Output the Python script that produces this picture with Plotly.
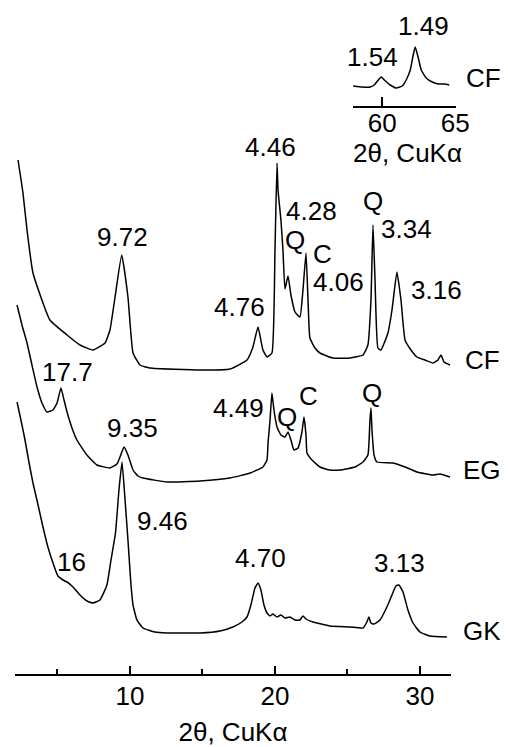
import plotly.graph_objects as go

# ---------------- data (2theta in degrees, intensity in arbitrary units) ----------------
tt_cf = [2.28, 2.62, 2.90, 3.31, 4.48, 5.66, 6.55, 7.45, 8.28, 8.62, 8.97, 9.43, 9.86, 10.21, 10.69,
         11.38, 14.83, 16.90, 18.07, 18.48, 18.83, 19.17, 19.45, 19.79, 20.00, 20.14, 20.21, 20.41,
         20.55, 20.69, 20.90, 21.10, 21.38, 21.72, 21.93, 22.14, 22.28, 22.41, 22.76, 23.10, 24.00,
         25.17, 26.07, 26.41, 26.62, 26.76, 26.90, 27.10, 27.31, 27.79, 28.07, 28.41, 28.69, 28.97,
         29.38, 29.79, 30.34, 30.90, 31.24, 31.45, 31.66, 32.07]
int_cf = [214, 181, 144, 101, 54, 39, 29, 24, 31, 44, 77, 119, 77, 21, 9,
          6, 4, 5, 14, 27, 47, 24, 17, 21, 124, 211, 184, 154,
          124, 85, 98, 79, 62, 57, 84, 121, 74, 36, 26, 21, 16,
          16, 19, 29, 74, 149, 94, 26, 24, 41, 64, 102, 74, 34,
          24, 17, 14, 11, 14, 19, 12, 9]

tt_eg = [2.21, 2.55, 2.90, 3.24, 3.59, 3.93, 4.28, 4.69, 4.97, 5.24, 5.45, 5.66, 6.00, 6.34, 7.03,
         7.72, 8.62, 9.10, 9.31, 9.59, 9.86, 10.21, 10.55, 10.90, 12.55, 14.83, 16.90, 18.28, 19.17,
         19.45, 19.52, 19.66, 19.79, 19.93, 20.14, 20.41, 20.69, 20.90, 21.10, 21.31, 21.59, 21.86,
         22.00, 22.14, 22.21, 22.55, 23.10, 23.79, 24.48, 25.52, 26.07, 26.41, 26.55, 26.62, 26.69,
         26.83, 27.03, 28.14, 28.97, 29.79, 30.90, 31.38, 32.07]
int_eg = [185, 165, 147, 125, 103, 87, 78, 80, 87, 102, 90, 78, 62, 50, 35,
          25, 22, 26, 33, 43, 35, 20, 14, 12, 8, 9, 12, 17, 23,
          30, 47, 70, 97, 80, 63, 55, 53, 58, 50, 40, 42, 58,
          73, 55, 37, 30, 23, 20, 20, 23, 28, 35, 70, 82, 60,
          35, 28, 27, 23, 18, 15, 16, 13]

tt_gk = [2.21, 2.48, 2.76, 3.03, 3.31, 3.66, 4.00, 4.34, 4.69, 5.03, 5.38, 5.66, 6.07, 6.55, 7.03,
         7.45, 7.93, 8.41, 8.69, 9.00, 9.24, 9.45, 9.66, 9.86, 10.07, 10.21, 10.48, 10.90, 11.72,
         12.55, 14.83, 16.21, 17.10, 17.72, 18.07, 18.34, 18.62, 18.83, 19.03, 19.24, 19.45, 19.66,
         19.86, 20.14, 20.41, 20.69, 21.03, 21.38, 21.72, 21.93, 22.14, 22.62, 23.79, 25.17, 26.07,
         26.34, 26.48, 26.62, 26.83, 27.24, 27.72, 28.07, 28.34, 28.55, 28.83, 29.17, 29.52, 30.00,
         30.69, 31.86]
int_gk = [243, 225, 205, 183, 162, 140, 118, 98, 82, 69, 65, 63, 58, 50, 44,
          42, 45, 60, 85, 112, 155, 183, 145, 105, 60, 40, 25, 17, 13,
          12, 12, 14, 18, 23, 28, 40, 57, 62, 55, 40, 32, 29,
          31, 28, 30, 27, 28, 25, 25, 29, 26, 23, 19, 18, 17,
          23, 28, 22, 21, 25, 38, 50, 59, 60, 53, 35, 22, 13,
          9, 8]

tt_inset = [58.01, 58.63, 59.18, 59.45, 59.73, 59.93, 60.14, 60.55, 60.96, 61.37, 61.64, 61.92,
            62.12, 62.26, 62.47, 62.67, 63.01, 63.42, 63.84, 64.25, 64.59]
int_inset = [6, 5, 5, 7, 12, 15, 12, 7, 4, 6, 12, 22,
             37, 45, 34, 22, 14, 10, 8, 8, 7]

main_ticks = [10, 20, 30]
main_minor_ticks = [5, 15, 25]
inset_ticks = [60, 65]
axis_title = "2θ, CuKα"

# vertical offsets of the stacked patterns
off_cf, off_eg, off_gk, off_inset = 300, 184, 29, 14

# peak labels: (text, 2theta position, height)
main_labels = [
    ("4.46", 19.66, 527), ("9.72", 9.45, 437), ("4.28", 22.55, 463), ("Q", 21.38, 434),
    ("C", 23.31, 420), ("4.06", 24.41, 392), ("Q", 26.76, 473), ("3.34", 29.10, 445),
    ("3.16", 31.17, 384), ("4.76", 17.52, 367),
    ("17.7", 5.66, 302), ("9.35", 10.14, 246), ("4.49", 17.45, 266), ("Q", 20.83, 257),
    ("C", 22.28, 278), ("Q", 26.69, 281),
    ("9.46", 12.21, 153), ("16", 6.00, 112), ("4.70", 19.03, 116), ("3.13", 28.62, 111),
]
inset_labels = [("1.54", 59.32, 49)]
# sample names and labels placed beyond the axes (paper fractions)
paper_labels = [("CF", 0.949, 0.466), ("EG", 0.949, 0.3027), ("GK", 0.949, 0.0638),
                ("1.49", 0.8327, 0.962), ("CF", 0.9508, 0.8843),
                (axis_title, 0.803, 0.773)]

# ---------------- figure ----------------
FONT = "Liberation Sans, Arial, sans-serif"
FS = 26
W, H = 508, 747
line = dict(color="black", width=1.5, shape="spline", smoothing=0.4)

fig = go.Figure()
for tt, ii, off in [(tt_cf, int_cf, off_cf), (tt_eg, int_eg, off_eg), (tt_gk, int_gk, off_gk)]:
    fig.add_trace(go.Scatter(x=tt, y=[v + off for v in ii], mode="lines", line=line,
                             xaxis="x", yaxis="y", showlegend=False, hoverinfo="skip"))
fig.add_trace(go.Scatter(x=tt_inset, y=[v + off_inset for v in int_inset], mode="lines",
                         line=line, xaxis="x2", yaxis="y2", showlegend=False, hoverinfo="skip"))

tfont = dict(size=FS, color="black", family=FONT)
annotations = []
common_ann = dict(showarrow=False, font=tfont, xanchor="center", yanchor="middle")
for txt, x, y in main_labels:
    annotations.append(dict(text=txt, x=x, y=y, xref="x", yref="y", **common_ann))
for txt, x, y in inset_labels:
    annotations.append(dict(text=txt, x=x, y=y, xref="x2", yref="y2", **common_ann))
for txt, x, y in paper_labels:
    annotations.append(dict(text=txt, x=x, y=y, xref="paper", yref="paper", **common_ann))

axis_common = dict(showgrid=False, zeroline=False, showline=True, linecolor="black",
                   linewidth=1.5, ticks="inside", tickcolor="black", tickwidth=1.5,
                   automargin=False, tickfont=tfont)

fig.update_layout(
    width=W, height=H,
    margin=dict(l=0, r=0, t=0, b=73),
    paper_bgcolor="white", plot_bgcolor="white",
    font=dict(family=FONT, size=FS, color="black"),
    xaxis=dict(domain=[15 / W, 451 / W], range=[2.07, 32.14], tickvals=main_ticks,
               ticklen=8, anchor="y", ticklabelstandoff=-2,
               minor=dict(tickvals=main_minor_ticks, ticks="inside", ticklen=5,
                          tickcolor="black", tickwidth=1.5),
               title=dict(text=axis_title, font=tfont, standoff=14),
               **axis_common),
    yaxis=dict(domain=[0, 1], range=[0, 674], visible=False),
    xaxis2=dict(domain=[353 / W, 456 / W], range=[58.0, 65.05], tickvals=inset_ticks,
                ticklen=9, anchor="y2", ticklabelstandoff=-7, **axis_common),
    yaxis2=dict(domain=[(674 - 106) / 674, (674 - 36) / 674], range=[0, 70], visible=False,
                anchor="x2"),
    annotations=annotations,
)

fig.write_html("out.html", config={"displayModeBar": False},
               post_script="document.body.style.margin='0';")
